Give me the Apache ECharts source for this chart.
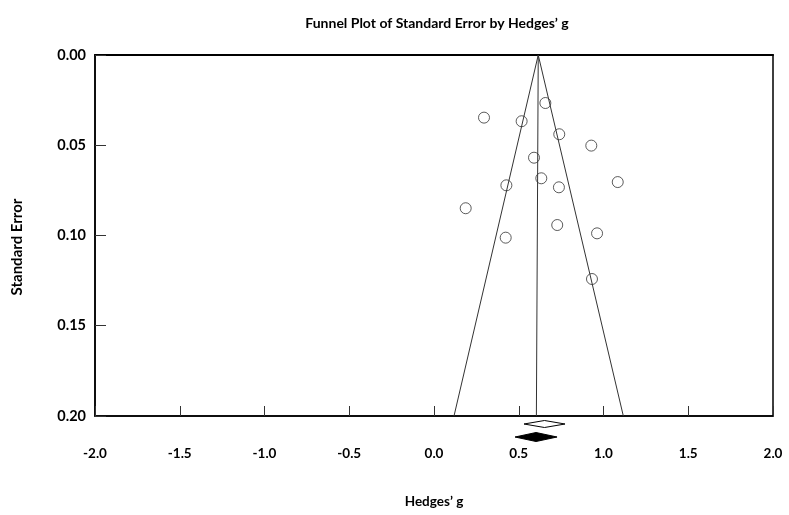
<!DOCTYPE html>
<html>
<head>
<meta charset="utf-8">
<script src="https://cdn.jsdelivr.net/npm/echarts@6/dist/echarts.min.js"></script>
<style>
html,body{margin:0;padding:0;background:#fff;}
#chart{width:789px;height:515px;}
</style>
</head>
<body>
<div id="chart"></div>
<script>
// ---- data ----
var titleText = 'Funnel Plot of Standard Error by Hedges’ g';
var xAxisTitle = 'Hedges’ g';
var yAxisTitle = 'Standard Error';
var xTicks = [-2.0, -1.5, -1.0, -0.5, 0.0, 0.5, 1.0, 1.5, 2.0];
var yTicks = [0.00, 0.05, 0.10, 0.15, 0.20];

// studies: Hedges' g and standard error
var studyG  = [0.657, 0.295, 0.517, 0.739, 0.928, 0.590, 0.633, 1.084, 0.427, 0.737, 0.187, 0.423, 0.727, 0.962, 0.932];
var studySE = [0.0266, 0.0347, 0.0367, 0.0439, 0.0502, 0.0569, 0.0683, 0.0704, 0.0722, 0.0733, 0.0849, 0.1012, 0.0942, 0.0988, 0.1241];

// funnel (apex and two bottom corners) and mean line
var funnelG  = [0.118, 0.615, 1.117];
var funnelSE = [0.20, 0.00, 0.20];
var meanG  = [0.615, 0.604];
var meanSE = [0.00, 0.20];

// summary diamonds: [lower, estimate, upper]
var diamondOpen   = [0.531, 0.652, 0.773];
var diamondFilled = [0.478, 0.602, 0.726];

// ---- chart ----
var FONT = 'Lato';
var chart = echarts.init(document.getElementById('chart'));

function pairs(a, b) { return a.map(function (v, i) { return [v, b[i]]; }); }

function diamondRenderer(offsetPx, halfH, filled) {
  return function (params, api) {
    var l = api.coord([api.value(0), 0.2]);
    var r = api.coord([api.value(2), 0.2]);
    var m = api.coord([api.value(1), 0.2]);
    var y = m[1] + offsetPx;
    return {
      type: 'polygon',
      shape: { points: [[l[0], y], [m[0], y - halfH], [r[0], y], [m[0], y + halfH]] },
      style: { fill: filled ? '#000' : '#fff', stroke: '#000', lineWidth: 1 }
    };
  };
}

var option = {
  backgroundColor: '#fff',
  animation: false,
  title: {
    text: titleText,
    left: 432, top: 11, textAlign: 'center',
    textStyle: { fontFamily: FONT, fontWeight: 'bold', fontSize: 14, color: '#000' }
  },
  grid: { left: 95, right: 16, top: 55, bottom: 99, show: true, borderColor: '#000', borderWidth: 1.5, backgroundColor: '#fff' },
  xAxis: [{
    type: 'value', min: -2, max: 2, interval: 0.5,
    axisLine: { show: true, onZero: false, lineStyle: { color: '#000', width: 1.5 } },
    axisTick: { show: true, inside: true, length: 10, lineStyle: { color: '#333', width: 1 } },
    splitLine: { show: false },
    axisLabel: {
      margin: 31, fontFamily: FONT, fontWeight: 'bold', fontSize: 13.5, color: '#000',
      formatter: function (v) { return v.toFixed(1); },
      customValues: xTicks
    },
    name: xAxisTitle, nameLocation: 'middle', nameGap: 79,
    nameTextStyle: { fontFamily: FONT, fontWeight: 'bold', fontSize: 13.5, color: '#000' }
  }, {
    type: 'value', min: -2, max: 2, position: 'top',
    axisLine: { show: true, lineStyle: { color: '#000', width: 2 } },
    axisTick: { show: false }, axisLabel: { show: false }, splitLine: { show: false }
  }],
  yAxis: {
    type: 'value', min: 0, max: 0.2, interval: 0.05, inverse: true,
    axisLine: { show: true, onZero: false, lineStyle: { color: '#000', width: 1.5 } },
    axisTick: { show: true, inside: true, length: 11, lineStyle: { color: '#333', width: 1 } },
    splitLine: { show: false },
    axisLabel: {
      margin: 9, fontFamily: FONT, fontWeight: 'bold', fontSize: 14.5, color: '#000',
      formatter: function (v) { return v.toFixed(2); }
    }
  },
  graphic: [{
    type: 'text', x: 17, y: 247, rotation: Math.PI / 2,
    style: { text: yAxisTitle, fontFamily: FONT, fontWeight: 'bold', fontSize: 15, fill: '#000', align: 'center', verticalAlign: 'middle' }
  }],
  series: [{
    type: 'line', data: pairs(funnelG, funnelSE), symbol: 'none',
    lineStyle: { color: '#333', width: 1 }, silent: true
  }, {
    type: 'line', data: pairs(meanG, meanSE), symbol: 'none',
    lineStyle: { color: '#333', width: 1 }, silent: true
  }, {
    type: 'scatter', data: pairs(studyG, studySE), symbol: 'circle', symbolSize: 11,
    itemStyle: { color: 'rgba(255,255,255,0)', borderColor: '#333', borderWidth: 1 }
  }, {
    type: 'custom', clip: false, data: [diamondOpen], encode: { x: [0, 1, 2] },
    renderItem: diamondRenderer(8, 3.5, false)
  }, {
    type: 'custom', clip: false, data: [diamondFilled], encode: { x: [0, 1, 2] },
    renderItem: diamondRenderer(21, 4.5, true)
  }]
};
chart.setOption(option);
</script>
</body>
</html>
